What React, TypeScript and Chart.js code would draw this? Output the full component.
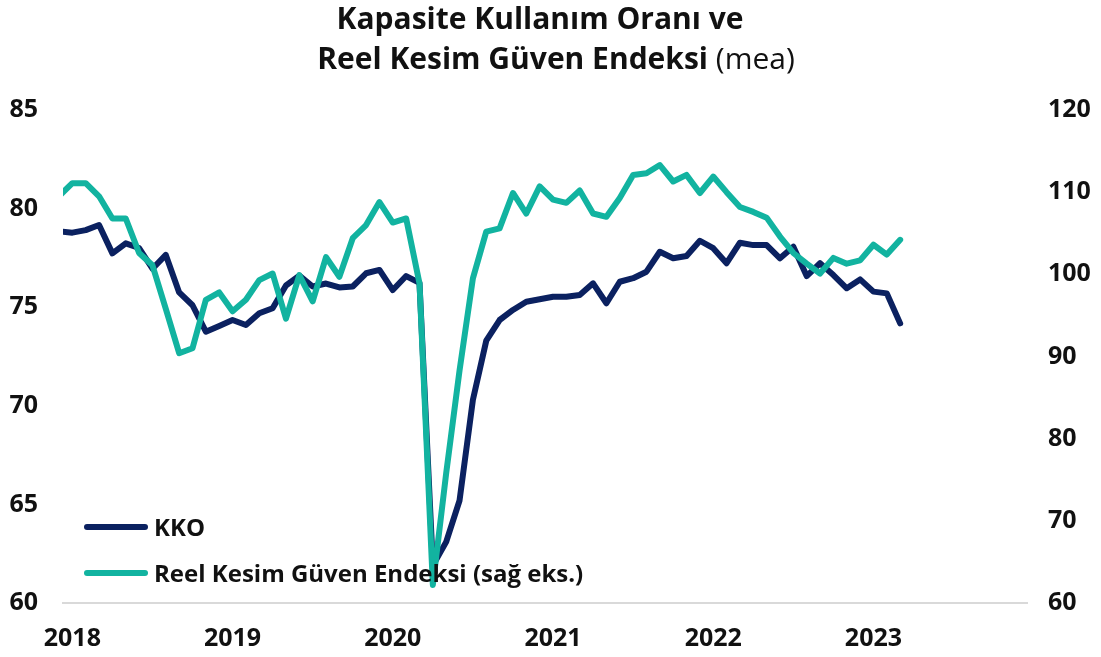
import React, { useEffect, useRef } from "react";
import { Chart, registerables } from "chart.js";

Chart.register(...registerables);

// Monthly observations, Dec 2017 – Mar 2023 (Dec 2017 only partly visible at the axis start)
const months = [
  "2017-12",
  "2018-01", "2018-02", "2018-03", "2018-04", "2018-05", "2018-06", "2018-07", "2018-08", "2018-09", "2018-10", "2018-11", "2018-12",
  "2019-01", "2019-02", "2019-03", "2019-04", "2019-05", "2019-06", "2019-07", "2019-08", "2019-09", "2019-10", "2019-11", "2019-12",
  "2020-01", "2020-02", "2020-03", "2020-04", "2020-05", "2020-06", "2020-07", "2020-08", "2020-09", "2020-10", "2020-11", "2020-12",
  "2021-01", "2021-02", "2021-03", "2021-04", "2021-05", "2021-06", "2021-07", "2021-08", "2021-09", "2021-10", "2021-11", "2021-12",
  "2022-01", "2022-02", "2022-03", "2022-04", "2022-05", "2022-06", "2022-07", "2022-08", "2022-09", "2022-10", "2022-11", "2022-12",
  "2023-01", "2023-02", "2023-03",
];

// Kapasite Kullanım Oranı (left axis)
const kko = [
  78.85,
  78.78, 78.91, 79.17, 77.73, 78.24, 78.0, 76.95, 77.65, 75.75, 75.1, 73.76, 74.05,
  74.35, 74.1, 74.69, 74.95, 76.1, 76.6, 76.05, 76.2, 76.0, 76.05, 76.72, 76.89,
  75.87, 76.58, 76.23, 61.9, 63.1, 65.2, 70.3, 73.3, 74.35, 74.86, 75.28, 75.4,
  75.53, 75.53, 75.62, 76.21, 75.2, 76.29, 76.47, 76.8, 77.81, 77.48, 77.6, 78.37,
  77.99, 77.23, 78.27, 78.15, 78.15, 77.48, 78.07, 76.58, 77.23, 76.63, 75.96, 76.41,
  75.79, 75.7, 74.18,
];

// Reel Kesim Güven Endeksi, mevsimsellikten arındırılmış (right axis)
const rkge = [
  109.5,
  111.1, 111.1, 109.5, 106.8, 106.8, 102.6, 101.1, 95.8, 90.4, 91.0, 96.9, 97.8,
  95.5, 96.9, 99.3, 100.1, 94.6, 99.9, 96.7, 102.1, 99.7, 104.4, 106.0, 108.8,
  106.3, 106.8, 98.9, 62.2, 75.8, 88.3, 99.5, 105.2, 105.6, 109.9, 107.4, 110.7,
  109.1, 108.7, 110.2, 107.4, 107.0, 109.3, 112.1, 112.3, 113.3, 111.3, 112.1, 109.9,
  111.9, 110.0, 108.2, 107.6, 106.9, 104.6, 102.6, 101.3, 100.1, 102.0, 101.3, 101.7,
  103.6, 102.4, 104.2,
];

const yearLabels = ["2018", "2019", "2020", "2021", "2022", "2023"];

const seriesNames = ["KKO", "Reel Kesim Güven Endeksi (sağ eks.)"];
const titleLine1 = "Kapasite Kullanım Oranı ve";
const titleLine2Bold = "Reel Kesim Güven Endeksi";
const titleLine2Normal = " (mea)";

const NAVY = "#0b2160";
const TEAL = "#12b3a0";
const FONT = "'Open Sans', 'DejaVu Sans', sans-serif";

// x position of a month = its index relative to Jan 2018
const monthX = (m: string) => months.indexOf(m) - 1;

export default function App() {
  const ref = useRef<HTMLCanvasElement | null>(null);

  useEffect(() => {
    document.body.style.margin = "0";
    const canvas = ref.current;
    if (!canvas) return;
    const tickFont = { family: FONT, size: 25, weight: "bold" as const };
    const chart = new Chart(canvas, {
      type: "line",
      data: {
        datasets: [
          {
            label: seriesNames[0],
            data: kko.map((v, i) => ({ x: monthX(months[i]), y: v })),
            borderColor: NAVY,
            backgroundColor: NAVY,
            yAxisID: "y",
            order: 2,
            clip: { left: 0, right: false, top: false, bottom: false } as any,
          },
          {
            label: seriesNames[1],
            data: rkge.map((v, i) => ({ x: monthX(months[i]), y: v })),
            borderColor: TEAL,
            backgroundColor: TEAL,
            yAxisID: "y1",
            order: 1,
            clip: { left: 0, right: false, top: false, bottom: false } as any,
          },
        ],
      },
      options: {
        animation: false,
        responsive: false,
        maintainAspectRatio: false,
        parsing: false as any,
        layout: { padding: { top: 110, left: 0, right: 0, bottom: 0 } },
        plugins: {
          legend: { display: false },
          title: { display: false },
          tooltip: { enabled: false },
        },
        elements: {
          point: { radius: 0, hoverRadius: 0 },
          line: {
            tension: 0,
            borderWidth: 6,
            borderCapStyle: "round",
            borderJoinStyle: "round",
          },
        },
        scales: {
          x: {
            type: "linear",
            min: -0.7,
            max: 71.5,
            grid: { display: false, drawTicks: false },
            border: { display: true, color: "#d9d9d9", width: 2 },
            ticks: {
              autoSkip: false,
              maxRotation: 0,
              padding: 21,
              color: "#111",
              font: tickFont,
              callback: (value: any) => {
                const idx = yearLabels.findIndex((y) => monthX(y + "-01") === value);
                return idx >= 0 ? yearLabels[idx] : "";
              },
            },
            afterBuildTicks: (scale: any) => {
              scale.ticks = yearLabels.map((y) => ({ value: monthX(y + "-01") }));
            },
            afterFit: (scale: any) => {
              scale.height = 54;
            },
          },
          y: {
            position: "left",
            min: 60,
            max: 85,
            grid: { display: false, drawTicks: false },
            border: { display: false },
            ticks: { stepSize: 5, padding: 25, color: "#111", font: tickFont },
            afterFit: (scale: any) => {
              scale.width = 63;
            },
          },
          y1: {
            position: "right",
            min: 60,
            max: 120,
            grid: { display: false, drawTicks: false },
            border: { display: false },
            ticks: { stepSize: 10, padding: 21, color: "#111", font: tickFont },
            afterFit: (scale: any) => {
              scale.width = 74;
            },
          },
        },
      },
    });
    return () => chart.destroy();
  }, []);

  const legendText: React.CSSProperties = {
    position: "absolute",
    left: 154,
    fontFamily: FONT,
    fontWeight: 700,
    fontSize: 24,
    color: "#111",
    lineHeight: "30px",
    whiteSpace: "nowrap",
  };
  const swatch = (color: string, cy: number): React.CSSProperties => ({
    position: "absolute",
    left: 84,
    top: cy - 3,
    width: 64,
    height: 6,
    borderRadius: 3,
    background: color,
  });

  return (
    <div style={{ position: "relative", width: 1101, height: 657, background: "#fff", overflow: "hidden" }}>
      <canvas ref={ref} width={1101} height={657} style={{ display: "block", width: 1101, height: 657 }} />
      <div
        style={{
          position: "absolute",
          left: 0,
          top: 0,
          width: 1080,
          textAlign: "center",
          fontFamily: FONT,
          fontWeight: 700,
          fontSize: 30,
          lineHeight: "36px",
          color: "#111",
          whiteSpace: "nowrap",
        }}
      >
        {titleLine1}
      </div>
      <div
        style={{
          position: "absolute",
          left: 0,
          top: 40,
          width: 1112,
          textAlign: "center",
          fontFamily: FONT,
          fontSize: 30,
          lineHeight: "36px",
          color: "#111",
          whiteSpace: "nowrap",
        }}
      >
        <span style={{ fontWeight: 700 }}>{titleLine2Bold}</span>
        <span style={{ fontWeight: 400 }}>{titleLine2Normal}</span>
      </div>
      <div style={swatch(NAVY, 527)} />
      <div style={{ ...legendText, top: 527 - 15 }}>{seriesNames[0]}</div>
      <div style={swatch(TEAL, 573)} />
      <div style={{ ...legendText, top: 573 - 15 }}>{seriesNames[1]}</div>
    </div>
  );
}
